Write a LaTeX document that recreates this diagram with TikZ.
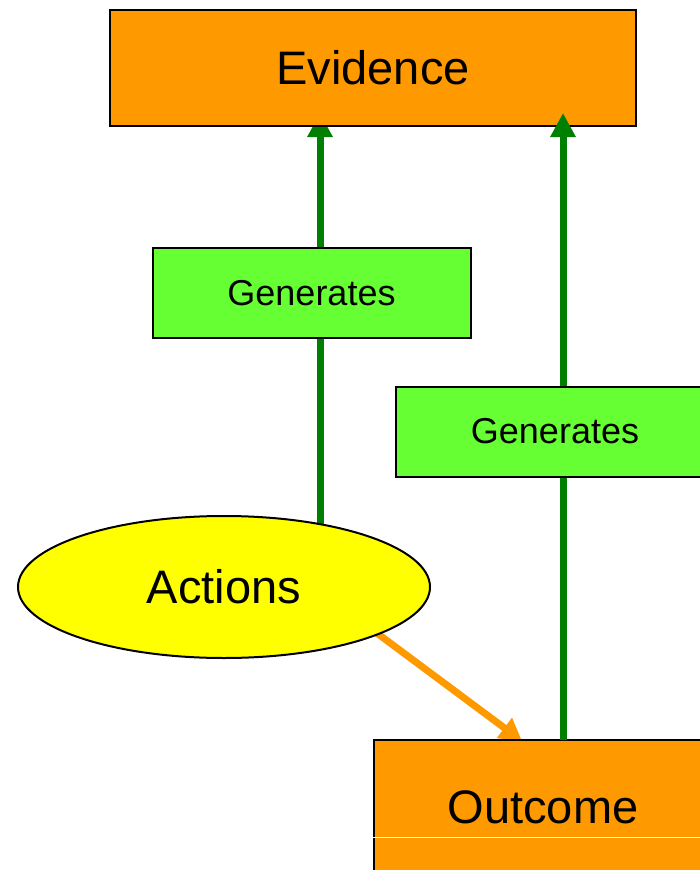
\documentclass[tikz,border=0pt]{standalone}
\usepackage{fontspec}
\setmainfont{Liberation Sans}
\usetikzlibrary{shapes.geometric,arrows.meta}
\pgfdeclarelayer{paper}
\pgfdeclarelayer{back}
\pgfsetlayers{paper,back,main}
\definecolor{boxorange}{HTML}{FF9900}
\definecolor{boxgreen}{HTML}{66FF33}
\definecolor{linkgreen}{HTML}{008000}
\definecolor{actyellow}{HTML}{FFFF00}
\tikzset{
  x=1pt, y=-1pt,
  bigbox/.style={draw=black, line width=2pt, fill=boxorange, inner sep=0pt,
    font=\fontsize{47}{47}\selectfont},
  genbox/.style={draw=black, line width=2pt, fill=boxgreen, inner sep=0pt,
    minimum width=318pt, minimum height=90pt, font=\fontsize{36}{36}\selectfont},
  actoval/.style={ellipse, draw=black, line width=2pt, fill=actyellow, inner sep=0pt,
    minimum width=412pt, minimum height=142pt, font=\fontsize{47}{47}\selectfont},
  genlink/.style={draw=linkgreen, line width=7pt,
    -{Triangle[width=24pt, length=24pt]}},
  actlink/.style={draw=boxorange, line width=7pt,
    -{Triangle[width=24pt, length=22pt]}},
}
\begin{document}
\begin{tikzpicture}
\useasboundingbox (0,0) rectangle (700,870);
\clip (0,0) rectangle (700,870);
\begin{pgfonlayer}{paper}
  \fill[white] (0,0) rectangle (700,870);
\end{pgfonlayer}

% boxes and the oval
\node[bigbox, minimum width=526pt, minimum height=116pt] (evidence) at (373,68) {Evidence};
\node[genbox] (gen1) at (311.5,293) {Generates};
\node[genbox] (gen2) at (555,431.5) {Generates};
\node[actoval] (actions) at (224,587) {Actions};
\node[bigbox, minimum width=338pt, minimum height=134pt] (outcome) at (543,807) {Outcome};
\draw[white, line width=0.8pt] (outcome.west |- 0,837) -- (outcome.east |- 0,837);

% connectors, kept behind the shapes
\coordinate (tip1) at (320,113);
\coordinate (tip2) at (563,113);
\coordinate (out2) at (563,740);
\coordinate (base1) at (320,524);
\coordinate (base3) at (366,625);
\coordinate (tip3) at (522,741);
\begin{pgfonlayer}{back}
  \draw[genlink] (base1) -- (tip1);
  \draw[actlink] (base3) -- (tip3);
\end{pgfonlayer}
\draw[linkgreen, line width=7pt] (out2) -- (gen2.south -| out2);
\draw[genlink] (gen2.north -| out2) -- (tip2);
\end{tikzpicture}
\end{document}
